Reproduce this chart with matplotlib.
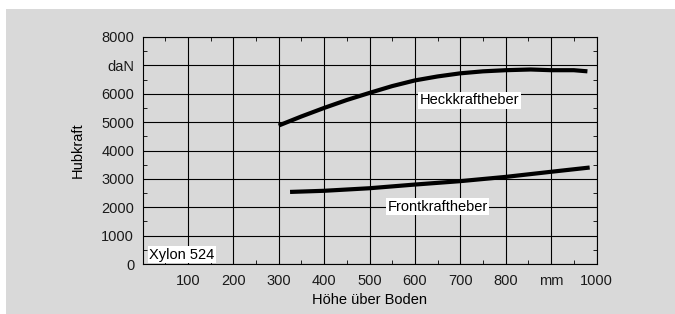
import numpy as np
import matplotlib.pyplot as plt
from matplotlib.patches import Rectangle
from matplotlib.ticker import MultipleLocator

plt.rcParams['font.family'] = ['Liberation Sans', 'DejaVu Sans']

# Daten
heck_x = [300, 350, 400, 450, 500, 550, 600, 650, 700, 750, 800, 855, 900, 950, 980]
heck_y = [4880, 5200, 5500, 5780, 6030, 6270, 6470, 6610, 6720, 6790, 6830, 6855, 6830, 6830, 6790]
front_x = [325, 400, 500, 600, 700, 800, 900, 985]
front_y = [2540, 2580, 2670, 2800, 2920, 3070, 3250, 3400]

x_ticks = [100, 200, 300, 400, 500, 600, 700, 800, 900, 1000]
x_labels = ['100', '200', '300', '400', '500', '600', '700', '800', 'mm', '1000']
y_ticks = [0, 1000, 2000, 3000, 4000, 5000, 6000, 7000, 8000]
y_labels = ['0', '1000', '2000', '3000', '4000', '5000', '6000', 'daN', '8000']

bg = '#d9d9d9'
fs = 10.5
fig = plt.figure(figsize=(6.75, 3.14), dpi=100, facecolor='white')
fig.patches.append(Rectangle((6 / 675, 0), 1 - 6 / 675, 1 - 9 / 314,
                             transform=fig.transFigure, facecolor=bg,
                             edgecolor='none', zorder=-1))
ax = fig.add_axes([142.5 / 675, 1 - 264 / 314, 454 / 675, 227 / 314])
ax.set_facecolor(bg)

ax.plot(heck_x, heck_y, color='black', lw=3, solid_capstyle='butt', zorder=3)
ax.plot(front_x, front_y, color='black', lw=3, solid_capstyle='butt', zorder=3)

ax.set_xlim(0, 1000)
ax.set_ylim(0, 8000)
ax.set_xticks(x_ticks)
ax.set_xticklabels(x_labels)
ax.set_yticks(y_ticks)
ax.set_yticklabels(y_labels)
ax.xaxis.set_minor_locator(MultipleLocator(50))
ax.yaxis.set_minor_locator(MultipleLocator(500))
ax.tick_params(which='major', length=0, labelsize=fs, colors='#1a1a1a')
ax.tick_params(axis='x', which='major', pad=7)
ax.tick_params(axis='y', which='major', pad=6)
ax.tick_params(which='minor', direction='in', length=3, width=0.6,
               top=True, right=True)
ax.grid(True, which='major', color='black', lw=0.8)
for s in ax.spines.values():
    s.set_color('black')
    s.set_linewidth(0.8)

box = dict(facecolor='white', edgecolor='none', pad=1.2)
ax.text(720, 5770, 'Heckkraftheber', ha='center', va='center', fontsize=fs, bbox=box, zorder=4)
ax.text(650, 2020, 'Frontkraftheber', ha='center', va='center', fontsize=fs, bbox=box, zorder=4)
ax.text(15, 330, 'Xylon 524', ha='left', va='center', fontsize=fs, bbox=box, zorder=4)

ax.set_xlabel('Höhe über Boden', fontsize=fs, labelpad=4)
ax.set_ylabel('Hubkraft', fontsize=fs, labelpad=12)

fig.savefig('out.png', dpi=100, facecolor='white')
